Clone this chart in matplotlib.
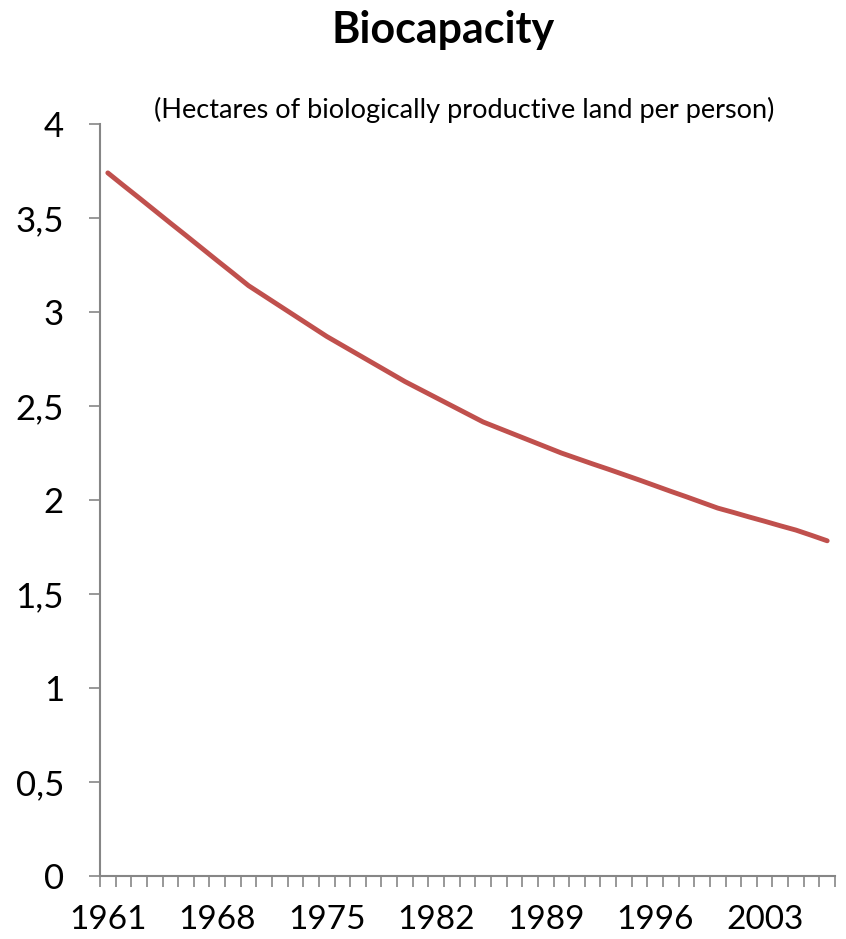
#!/usr/bin/python3

# numpy and plotting
import matplotlib.pyplot as plt
import numpy as np

########################################################################################
# biocapacity per person, one value per year
years = list(range(1961, 2008))
biocap = [3.740, 3.673, 3.607, 3.540, 3.473, 3.407, 3.340, 3.273, 3.207, 3.140,
          3.086, 3.032, 2.978, 2.924, 2.870, 2.822, 2.774, 2.726, 2.678, 2.630,
          2.587, 2.544, 2.501, 2.458, 2.415, 2.382, 2.349, 2.316, 2.283, 2.250,
          2.221, 2.192, 2.164, 2.135, 2.106, 2.076, 2.046, 2.017, 1.987, 1.957,
          1.934, 1.910, 1.887, 1.863, 1.840, 1.812, 1.783]
yticks = [0, 0.5, 1, 1.5, 2, 2.5, 3, 3.5, 4]
ylabels = ['0', '0,5', '1', '1,5', '2', '2,5', '3', '3,5', '4']
label_step = 7

########################################################################################
plt.rcParams['font.family'] = ['Lato', 'DejaVu Sans']

fig = plt.figure(figsize=(8.46, 9.39), dpi=100)
ax = fig.add_axes([100/846, 1 - 876/939, 735/846, 752/939])

xs = np.arange(len(years))
ax.plot(xs, biocap, color='#C0504D', linewidth=3.5, solid_capstyle='round',
        solid_joinstyle='round')

ax.set_xlim(-0.5, len(years) - 0.5)
ax.set_ylim(0, 4)

# category axis: ticks on the boundaries, labels in the middle
ax.set_xticks(xs[::label_step])
ax.set_xticklabels([str(years[i]) for i in xs[::label_step]])
ax.set_xticks(np.arange(-0.5, len(years)), minor=True)
ax.tick_params(axis='x', which='major', length=0, pad=21, labelsize=24)
ax.tick_params(axis='x', which='minor', length=8, width=1.2, color='#868686', direction='out')

ax.set_yticks(yticks)
ax.set_yticklabels(ylabels)
ax.tick_params(axis='y', length=8, width=1.2, color='#868686', direction='out', pad=18, labelsize=25)

for s in ['top', 'right']:
    ax.spines[s].set_visible(False)
for s in ['left', 'bottom']:
    ax.spines[s].set_color('#868686')
    ax.spines[s].set_linewidth(1.5)

fig.text(443/846, 1 - 30/939, 'Biocapacity', ha='center', va='center', fontsize=31, fontweight='bold')
fig.text(464/846, 1 - 110/939, '(Hectares of biologically productive land per person)',
         ha='center', va='center', fontsize=19.5)

plt.savefig('out.png', dpi=100)
